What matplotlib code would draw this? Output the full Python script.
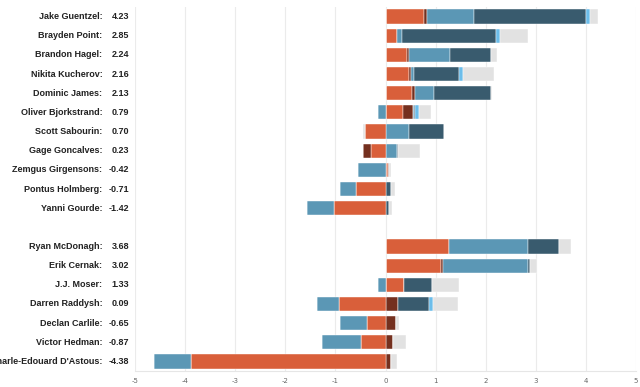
import matplotlib.pyplot as plt
import numpy as np

# Players (top group = forwards, bottom group = defence)
players = ["Jake Guentzel", "Brayden Point", "Brandon Hagel", "Nikita Kucherov",
           "Dominic James", "Oliver Bjorkstrand", "Scott Sabourin", "Gage Goncalves",
           "Zemgus Girgensons", "Pontus Holmberg", "Yanni Gourde",
           "Ryan McDonagh", "Erik Cernak", "J.J. Moser", "Darren Raddysh",
           "Declan Carlile", "Victor Hedman", "Charle-Edouard D'Astous"]
totals = [4.23, 2.85, 2.24, 2.16, 2.13, 0.79, 0.70, 0.23, -0.42, -0.71, -1.42,
          3.68, 3.02, 1.33, 0.09, -0.65, -0.87, -4.38]
n_forwards = 11

# positive components
pos_orange = [0.77, 0.23, 0.43, 0.46, 0.52, 0.35, 0, 0, 0.04, 0, 0, 1.27, 1.10, 0.36, 0, 0, 0, 0]
pos_brown = [0.06, 0, 0.03, 0.04, 0.06, 0.20, 0, 0, 0.03, 0, 0, 0, 0.05, 0, 0.25, 0.21, 0.15, 0.10]
pos_steel = [0.93, 0.10, 0.83, 0.06, 0.39, 0.01, 0.46, 0.23, 0, 0.01, 0.01, 1.58, 1.70, 0, 0, 0, 0, 0]
pos_slate = [2.24, 1.87, 0.82, 0.90, 1.14, 0.03, 0.70, 0.01, 0, 0.10, 0.06, 0.62, 0.03, 0.56, 0.61, 0, 0, 0]
pos_light = [0.08, 0.09, 0, 0.09, 0, 0.08, 0, 0, 0, 0, 0, 0, 0, 0, 0.09, 0, 0, 0]
pos_gray = [0.17, 0.55, 0.12, 0.61, 0.02, 0.23, 0, 0.44, 0.04, 0.08, 0.06, 0.23, 0.15, 0.55, 0.50, 0.05, 0.25, 0.13]

# negative components
neg_orange = [0, 0, 0, 0, 0, 0, -0.41, -0.29, 0, -0.59, -1.03, 0, 0, 0, -0.93, -0.37, -0.49, -3.88]
neg_brown = [0, 0, 0, 0, 0, 0, 0, -0.15, 0, 0, 0, 0, 0, 0, 0, 0, 0, 0]
neg_steel = [0, 0, 0, 0, 0, -0.14, 0, 0, -0.54, -0.32, -0.53, 0, 0, -0.14, -0.43, -0.54, -0.78, -0.74]
neg_gray = [0, 0, 0, 0, 0, 0, -0.04, 0, 0, 0, 0, 0, 0, 0, 0, 0, 0, 0]

ORANGE = "#d95f3a"
BROWN = "#74301f"
STEEL = "#5b97b5"
SLATE = "#395b6e"
LIGHT = "#6cbdea"
GRAY = "#e2e2e2"


def main():
    fig = plt.figure(figsize=(6.4, 3.87), dpi=100)
    ax = fig.add_axes([135 / 640, 16 / 387, 501 / 640, 364 / 387])

    # leave an empty slot between the two groups
    ypos = np.array([i if i < n_forwards else i + 1 for i in range(len(players))])
    h = 0.74

    left = np.zeros(len(players))
    for vals, col in [(pos_orange, ORANGE), (pos_brown, BROWN), (pos_steel, STEEL),
                      (pos_slate, SLATE), (pos_light, LIGHT), (pos_gray, GRAY)]:
        v = np.array(vals)
        ax.barh(ypos, v, left=left, height=h, color=col, edgecolor="white",
                linewidth=0.3, zorder=3)
        left += v

    left = np.zeros(len(players))
    for vals, col in [(neg_orange, ORANGE), (neg_brown, BROWN), (neg_steel, STEEL),
                      (neg_gray, GRAY)]:
        v = np.array(vals)
        ax.barh(ypos, v, left=left, height=h, color=col, edgecolor="white",
                linewidth=0.3, zorder=3)
        left += v

    ax.set_xlim(-5, 5)
    ax.set_ylim(ypos.max() + 0.5, -0.5)
    ax.set_xticks(range(-5, 6))
    ax.set_xticklabels([str(t) for t in range(-5, 6)])
    ax.tick_params(axis="x", length=0, labelsize=5, labelcolor="#666666", pad=5)
    ax.set_yticks([])
    ax.grid(axis="x", color="#ebebeb", linewidth=0.8, zorder=0)
    for s in ["top", "right", "left"]:
        ax.spines[s].set_visible(False)
    ax.spines["bottom"].set_color("#e6e6e6")

    # player names and totals
    tr = ax.get_yaxis_transform()
    for y, name, tot in zip(ypos, players, totals):
        ax.text(-0.065, y, name + ":", transform=tr, ha="right", va="center",
                fontsize=6.5, fontweight="bold", family="Liberation Sans",
                color="#222222", clip_on=False)
        ax.text(-0.011, y, f"{tot:.2f}", transform=tr, ha="right", va="center",
                fontsize=6.5, fontweight="bold", family="Liberation Sans",
                color="#222222", clip_on=False)

    fig.savefig("out.png", dpi=100)


if __name__ == '__main__':
    main()
